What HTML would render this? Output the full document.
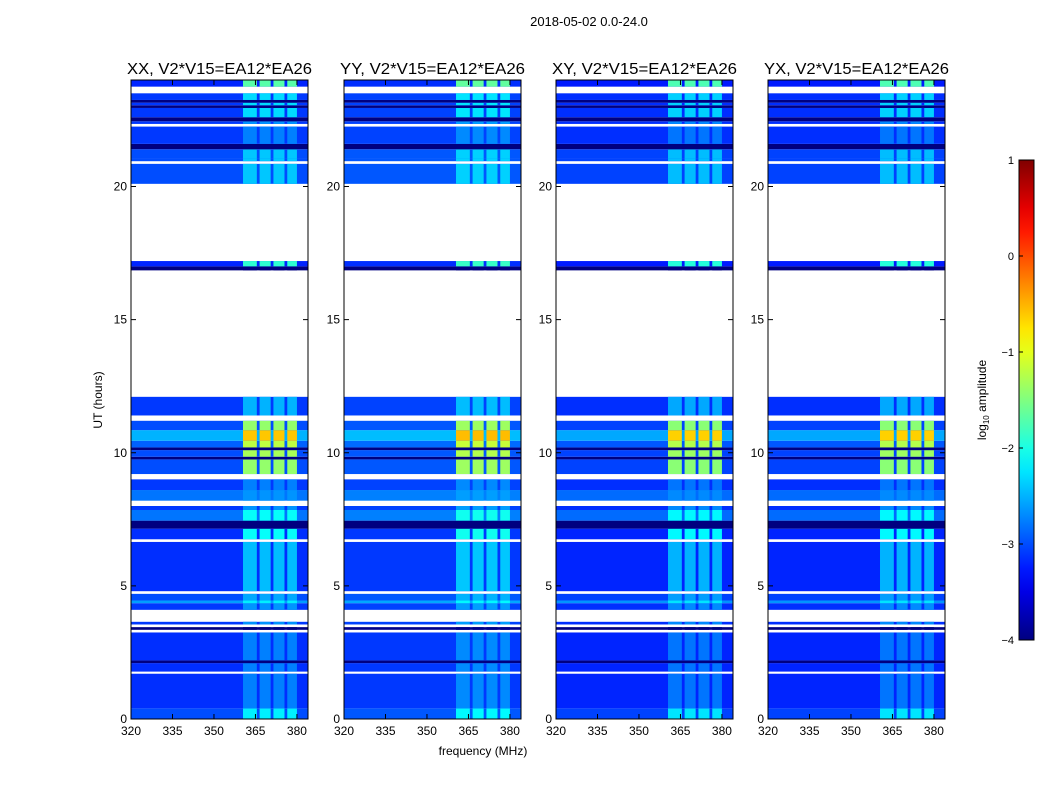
<!DOCTYPE html>
<html><head><meta charset="utf-8"><style>
body{margin:0;background:#fff;font-family:"Liberation Sans","DejaVu Sans",sans-serif}
svg text{font-family:"Liberation Sans","DejaVu Sans",sans-serif}
</style></head><body>
<svg id="c" width="1050" height="800" xmlns="http://www.w3.org/2000/svg"></svg>
<script>
const panelTitles=["XX, V2*V15=EA12*EA26","YY, V2*V15=EA12*EA26","XY, V2*V15=EA12*EA26","YX, V2*V15=EA12*EA26"];
const panelOffsets=[0,0.05,-0.05,-0.05];
// time bands: [start hour, end hour, base log amp, rfi log amp]; null = no data
const timeStarts=[0,0.4,1.7,1.78,2.1,2.2,3.25,3.35,3.45,3.55,3.65,4.1,4.35,4.45,4.7,4.8,6.65,6.75,7.15,7.45,7.85,8.0,8.2,8.6,9.0,9.2,9.75,9.85,10.1,10.2,10.45,10.85,11.2,11.4,12.1,16.85,17.0,17.2,20.1,20.85,20.95,21.05,21.4,21.6,22.25,22.35,22.45,22.6,22.95,23.05,23.15,23.25,23.5,23.75];
const timeEnds=[0.4,1.7,1.78,2.1,2.2,3.25,3.35,3.45,3.55,3.65,4.1,4.35,4.45,4.7,4.8,6.65,6.75,7.15,7.45,7.85,8.0,8.2,8.6,9.0,9.2,9.75,9.85,10.1,10.2,10.45,10.85,11.2,11.4,12.1,16.85,17.0,17.2,20.1,20.85,20.95,21.05,21.4,21.6,22.25,22.35,22.45,22.6,22.95,23.05,23.15,23.25,23.5,23.75,24];
const baseLevels=[-3.0,-3.15,null,-3.15,-4.3,-3.15,null,-4.0,null,-3.1,null,-3.1,-2.6,-3.0,null,-3.15,null,-3.15,-4.3,-2.8,-3.1,null,-2.8,-3.1,null,-3.0,-4.2,-3.0,-4.2,-2.9,-2.5,-3.0,null,-3.1,null,-4.3,-3.2,null,-3.0,null,-3.0,-3.0,-4.3,-3.1,null,-3.1,-4.3,-3.1,-4.3,-3.1,-4.3,-3.1,null,-3.2];
const rfiLevels=[-2.2,-2.75,null,-2.75,-4.3,-2.75,null,-4.0,null,-2.65,null,-2.65,-2.2,-2.55,null,-2.45,null,-2.1,-4.3,-2.1,-2.65,null,-2.65,-2.75,null,-1.4,-4.2,-1.3,-4.2,-1.2,-0.6,-1.4,null,-2.5,null,-4.3,-1.9,null,-2.4,null,-2.4,-2.4,-4.3,-2.75,null,-2.65,-4.3,-2.3,-4.3,-2.3,-4.3,-2.3,null,-1.7];
// RFI frequency blocks (MHz) separated by channel gaps
const rfiStart=[360.5,366.5,371.5,376.5];
const rfiEnd=[365.5,370.5,375.5,380];
const xTicks=[320,335,350,365,380];
const yTicks=[0,5,10,15,20];
const cbTicks=[1,0,-1,-2,-3,-4];
const lefts=[131,344,556,768], W=177, TOP=80, BOT=719, FMIN=320, FMAX=384, TMAX=24;
const NS="http://www.w3.org/2000/svg", svg=document.getElementById('c');
function el(t,a,p){const e=document.createElementNS(NS,t);for(const k in a)e.setAttribute(k,a[k]);(p||svg).appendChild(e);return e;}
function jet(v){let t=Math.max(0,Math.min(1,(v+4)/5));
 const r=Math.max(0,Math.min(1,1.5-Math.abs(4*t-3))),g=Math.max(0,Math.min(1,1.5-Math.abs(4*t-2))),b=Math.max(0,Math.min(1,1.5-Math.abs(4*t-1)));
 return `rgb(${Math.round(r*255)},${Math.round(g*255)},${Math.round(b*255)})`;}
function yS(h){return BOT-(BOT-TOP)*h/TMAX;}
const t0=el('text',{x:589,y:26,'font-size':13,'text-anchor':'middle'});t0.textContent="2018-05-02 0.0-24.0";

panelTitles.forEach((title,p)=>{
 const L=lefts[p]; const xS=f=>L+W*(f-FMIN)/(FMAX-FMIN); const off=panelOffsets[p];
 const g=el('g',{});
 
 
 for(let i=0;i<timeStarts.length;i++){
  if(baseLevels[i]===null)continue;
  const y1=yS(timeEnds[i]),y0=yS(timeStarts[i]);
  const r=el('rect',{x:L,y:y1,width:W,height:y0-y1,fill:jet(baseLevels[i]+off)},g);
  
  for(let j=0;j<rfiStart.length;j++){
   const c=el('rect',{x:xS(rfiStart[j]),y:y1,width:xS(rfiEnd[j])-xS(rfiStart[j]),height:y0-y1,fill:jet(rfiLevels[i]+off)},g);
   
  }
 }
 el('rect',{x:L,y:TOP,width:W,height:BOT-TOP,fill:'none',stroke:'#000','stroke-width':1},g);
 xTicks.forEach(v=>{const x=xS(v);el('line',{x1:x,x2:x,y1:BOT,y2:BOT-5,stroke:'#000'},g);el('line',{x1:x,x2:x,y1:TOP,y2:TOP+5,stroke:'#000'},g);
  const t=el('text',{x:x,y:BOT+16,'font-size':12,'text-anchor':'middle'},g);t.textContent=v;});
 yTicks.forEach(v=>{const y=yS(v);el('line',{x1:L,x2:L+5,y1:y,y2:y,stroke:'#000'},g);el('line',{x1:L+W,x2:L+W-5,y1:y,y2:y,stroke:'#000'},g);
  const t=el('text',{x:L-4,y:y+4,'font-size':12,'text-anchor':'end'},g);t.textContent=v;});
 const tt=el('text',{x:L+W/2,y:74,'font-size':16,'text-anchor':'middle',textLength:185,lengthAdjust:'spacingAndGlyphs'},g);tt.textContent=title;
 
});
const xl=el('text',{x:483,y:755,'font-size':12,'text-anchor':'middle'});xl.textContent="frequency (MHz)";

const yl=el('text',{x:102,y:400,'font-size':12,'text-anchor':'middle',transform:'rotate(-90 102 400)'});yl.textContent="UT (hours)";

// colorbar
const defs=el('defs',{});const lg=el('linearGradient',{id:'jg',x1:0,y1:1,x2:0,y2:0},defs);
for(let k=0;k<=20;k++){el('stop',{offset:k/20,'stop-color':jet(-4+5*k/20)},lg);}
const cb=el('rect',{x:1019,y:160,width:15,height:480,fill:'url(#jg)',stroke:'#000'});

cbTicks.forEach(v=>{const y=160+480*(1-v)/5;el('line',{x1:1019,x2:1023,y1:y,y2:y,stroke:'#000'});
 const t=el('text',{x:1014,y:y+4,'font-size':11,'text-anchor':'end'});t.textContent=(v<0?'\u2212'+(-v):v);
 });
const cl=el('text',{x:986,y:400,'font-size':12,'text-anchor':'middle',transform:'rotate(-90 986 400)'});
cl.innerHTML='log<tspan font-size="8" dy="3">10</tspan><tspan dy="-3"> amplitude</tspan>';

</script>
</body></html>
